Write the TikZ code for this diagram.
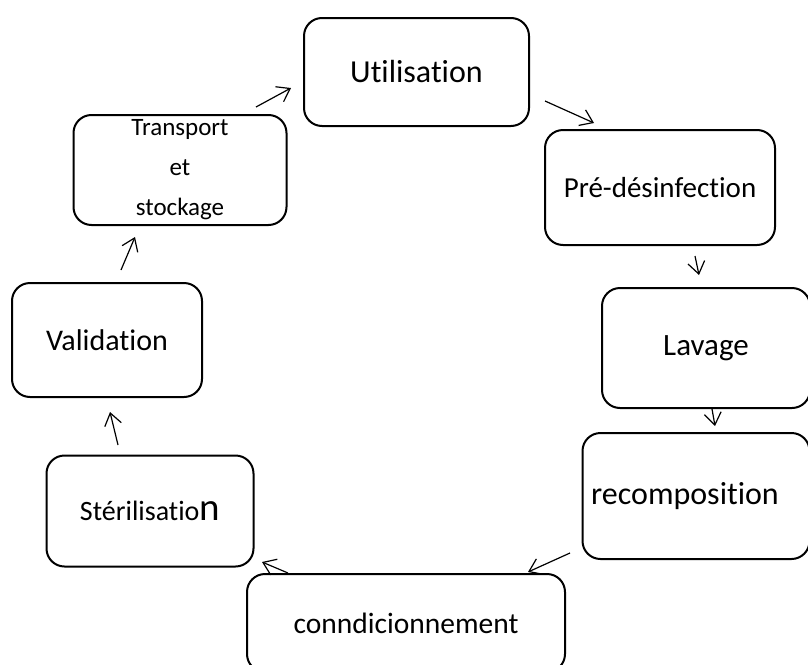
\documentclass[tikz,border=0pt]{standalone}
\usepackage{fontspec}
\setmainfont{Carlito}[Ligatures=NoCommon]
\usepackage{tikz}
\usetikzlibrary{arrows.meta,positioning}

\begin{document}
\begin{tikzpicture}[
  x=1pt, y=-1pt,
  etape/.style={rectangle, draw=black, line width=2pt, rounded corners=18pt, align=center, inner sep=0pt},
  fleche/.style={-{Straight Barb[length=12pt,width=17pt]}, line width=1.2pt}
]
  \clip (0,0) rectangle (808,664);
  \fill[white] (0,0) rectangle (808,664);
  % les etapes du cycle
  \node[etape, minimum width=225pt, minimum height=108pt, font=\fontsize{32}{38}\selectfont] (util) at (416.5,72) {Utilisation};
  \node[etape, minimum width=230pt, minimum height=115pt, font=\fontsize{29}{34}\selectfont] (predes) at (660,187.5) {Pré-désinfection};
  \node[etape, minimum width=208pt, minimum height=120pt, font=\fontsize{31}{36}\selectfont] (lavage) at (706,348) {Lavage};
  \node[etape, minimum width=227pt, minimum height=126pt, font=\fontsize{32}{38}\selectfont] (recomp) at (696,496) {recomposition\hspace*{22pt}};
  \node[etape, minimum width=318pt, minimum height=98pt, font=\fontsize{29.5}{35}\selectfont] (condi) at (406,623) {conndicionnement};
  \node[etape, minimum width=207pt, minimum height=111pt, font=\fontsize{28}{33}\selectfont] (steril) at (150,511) {Stérilisatio{\fontsize{39}{39}\selectfont n}};
  \node[etape, minimum width=190pt, minimum height=114pt, font=\fontsize{30}{36}\selectfont] (valid) at (107,340) {Validation};
  \node[etape, minimum width=213pt, minimum height=110pt, font=\fontsize{25}{40}\selectfont] (transp) at (180,170) {Transport\\et\\stockage};
  % extremites des fleches
  \coordinate (f1a) at (256,107); \coordinate (f1b) at (291,88);
  \coordinate (f2a) at (545,101); \coordinate (f2b) at (594,123);
  \coordinate (f3a) at (695,256); \coordinate (f3b) at (699,275);
  \coordinate (f4a) at (712,409); \coordinate (f4b) at (715,426);
  \coordinate (f5a) at (570,553); \coordinate (f5b) at (528,572);
  \coordinate (f6a) at (288,573); \coordinate (f6b) at (262,562);
  \coordinate (f7a) at (118,445); \coordinate (f7b) at (110,412);
  \coordinate (f8a) at (121,270); \coordinate (f8b) at (135,237);
  \draw[fleche] (f1a) -- (f1b);
  \draw[fleche] (f2a) -- (f2b);
  \draw[fleche] (f3a) -- (f3b);
  \draw[fleche] (f4a) -- (f4b);
  \draw[fleche] (f5a) -- (f5b);
  \draw[fleche] (f6a) -- (f6b);
  \draw[fleche] (f7a) -- (f7b);
  \draw[fleche] (f8a) -- (f8b);
\end{tikzpicture}
\end{document}
